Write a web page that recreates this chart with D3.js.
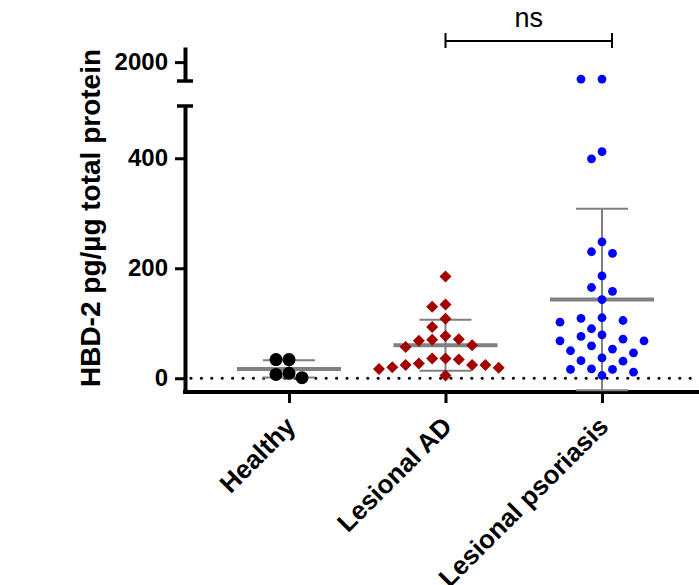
<!DOCTYPE html>
<html>
<head>
<meta charset="utf-8">
<script src="https://cdn.jsdelivr.net/npm/d3@7"></script>
<style>
  body { margin: 0; background: #fff; }
  text { font-family: "Liberation Sans", Arial, sans-serif; }
</style>
</head>
<body>
<div id="canvas"></div>
<script>
"use strict"

// the data
let groups = ["Healthy", "Lesional AD", "Lesional psoriasis"]
let healthy = [34, 34, 9, 7, 1]
let lesionalAD = [185, 130, 134, 108, 93, 77, 71, 68, 70, 57, 60, 36, 34, 36, 27, 24, 24, 20, 19, 17, 24, 5]
let lesionalPsoriasis = [650, 655, 412, 399, 248, 230, 227, 186, 165, 158, 143, 110, 109, 105, 102, 90,
    79, 76, 71, 68, 68, 59, 53, 50, 46, 37, 32, 31, 17, 16, 16, 11, 5]
let lowTicks = [0, 200, 400]
let highTicks = [2000]
let sigLabel = "ns"

let drawing = d3.select("#canvas")
    .append("svg")
    .attr("width", 699)
    .attr("height", 585)

let axisX = 185 // where the y axis sits
let baseY = 392 // where the x axis sits

let x = d3.scalePoint().domain(groups).range([289, 602])
let yLow = d3.scaleLinear().domain([-25, 495]).range([baseY, 106])
let yHigh = d3.scaleLinear().domain([500, 3200]).range([81, 47])
let yOf = v => v > 495 ? yHigh(v) : yLow(v)

// simple beeswarm so the dots spread sideways like the original
function swarm(values, step, minDist) {
    let placed = []
    let order = values.map(v => ({ v: v, y: yOf(v) })).sort((a, b) => a.y - b.y)
    order.forEach(p => {
        for (let k = 0; k < 60; k++) {
            let slot = k === 0 ? 0 : (k % 2 ? -Math.ceil(k / 2) : Math.ceil(k / 2))
            let dx = slot * step
            if (placed.every(q => Math.hypot(q.dx - dx, q.y - p.y) >= minDist)) {
                p.dx = dx
                break
            }
        }
        placed.push(p)
    })
    return placed
}

// zero line, dotted
drawing.append("line")
    .attr("x1", 191)
    .attr("x2", 699)
    .attr("y1", yLow(0))
    .attr("y2", yLow(0))
    .attr("stroke", "black")
    .attr("stroke-width", 3.2)
    .attr("stroke-linecap", "round")
    .attr("stroke-dasharray", "0 10.4")

// lower y axis
let lowAxis = drawing.append("g")
    .attr("transform", `translate(${axisX},0)`)
    .call(d3.axisLeft(yLow).tickValues(lowTicks).tickFormat(d3.format("d"))
        .tickSize(10).tickSizeOuter(0).tickPadding(7))

// upper y axis (after the break)
let highAxis = drawing.append("g")
    .attr("transform", `translate(${axisX},0)`)
    .call(d3.axisLeft(yHigh).tickValues(highTicks).tickFormat(d3.format("d"))
        .tickSize(10).tickSizeOuter(0).tickPadding(7))

drawing.selectAll(".domain").attr("stroke-width", 4)
drawing.selectAll(".tick line").attr("stroke-width", 3)
drawing.selectAll(".tick text")
    .attr("font-size", 24)
    .attr("font-weight", "bold")
    .attr("font-family", "'Liberation Sans', Arial, sans-serif")

// break caps
let breakCaps = [yLow.range()[1], yHigh.range()[0]]
drawing.selectAll(".cap").data(breakCaps).join("line")
    .attr("x1", axisX - 8)
    .attr("x2", axisX + 8)
    .attr("y1", d => d)
    .attr("y2", d => d)
    .attr("stroke", "black")
    .attr("stroke-width", 3.5)

// x axis
let xAxis = drawing.append("g")
    .attr("transform", `translate(0,${baseY})`)
    .call(d3.axisBottom(x).tickSize(11).tickSizeOuter(0))
xAxis.select(".domain").remove()
xAxis.selectAll(".tick line").attr("stroke-width", 3)
xAxis.selectAll(".tick text").remove()

drawing.append("line")
    .attr("x1", axisX - 2)
    .attr("x2", 699)
    .attr("y1", baseY)
    .attr("y2", baseY)
    .attr("stroke", "black")
    .attr("stroke-width", 4)

// category labels, turned 45 degrees
drawing.selectAll(".catLabel").data(groups).join("text")
    .attr("class", "catLabel")
    .attr("transform", d => `translate(${x(d) + 8},${baseY + 36}) rotate(-45)`)
    .attr("text-anchor", "end")
    .attr("font-size", 26)
    .attr("font-weight", "bold")
    .text(d => d)

// axis title
drawing.append("text")
    .attr("transform", "translate(100,218) rotate(-90)")
    .attr("text-anchor", "middle")
    .attr("font-size", 28)
    .attr("font-weight", "bold")
    .text("HBD-2 pg/µg total protein")

// mean and SD bars
let sets = [healthy, lesionalAD, lesionalPsoriasis]
sets.forEach((vals, i) => {
    let cx = x(groups[i])
    let m = d3.mean(vals)
    let sd = d3.deviation(vals)
    let g = drawing.append("g").attr("stroke", "#808080")
    g.append("line") // sd stem
        .attr("x1", cx).attr("x2", cx)
        .attr("y1", yOf(m + sd)).attr("y2", yOf(m - sd))
        .attr("stroke-width", 2)
    ;[m + sd, m - sd].forEach(v => {
        g.append("line") // sd caps
            .attr("x1", cx - 26).attr("x2", cx + 26)
            .attr("y1", yOf(v)).attr("y2", yOf(v))
            .attr("stroke-width", 2)
    })
    g.append("line") // mean
        .attr("x1", cx - 52).attr("x2", cx + 52)
        .attr("y1", yOf(m)).attr("y2", yOf(m))
        .attr("stroke-width", 4)
})

// healthy dots
drawing.append("g").selectAll("circle")
    .data(swarm(healthy, 6.5, 13))
    .join("circle")
    .attr("cx", d => x(groups[0]) + d.dx)
    .attr("cy", d => d.y)
    .attr("r", 6.5)
    .attr("fill", "black")

// lesional AD diamonds
drawing.append("g").selectAll("path")
    .data(swarm(lesionalAD, 13.3, 12.5))
    .join("path")
    .attr("d", d3.symbol(d3.symbolSquare, 72))
    .attr("transform", d => `translate(${x(groups[1]) + d.dx},${d.y}) rotate(45)`)
    .attr("fill", "#a30000")

// lesional psoriasis dots
drawing.append("g").selectAll("circle")
    .data(swarm(lesionalPsoriasis, 10.5, 12))
    .join("circle")
    .attr("cx", d => x(groups[2]) + d.dx)
    .attr("cy", d => d.y)
    .attr("r", 4.4)
    .attr("fill", "#0000ff")

// significance bracket
let bx1 = x(groups[1])
let bx2 = x(groups[2]) + 10
let by = 41
drawing.append("path")
    .attr("d", `M${bx1},${by - 8}V${by + 7}M${bx1},${by}H${bx2}M${bx2},${by - 8}V${by + 7}`)
    .attr("fill", "none")
    .attr("stroke", "black")
    .attr("stroke-width", 2)

drawing.append("text")
    .attr("x", (bx1 + bx2) / 2)
    .attr("y", 27)
    .attr("text-anchor", "middle")
    .attr("font-size", 27)
    .text(sigLabel)
</script>
</body>
</html>
